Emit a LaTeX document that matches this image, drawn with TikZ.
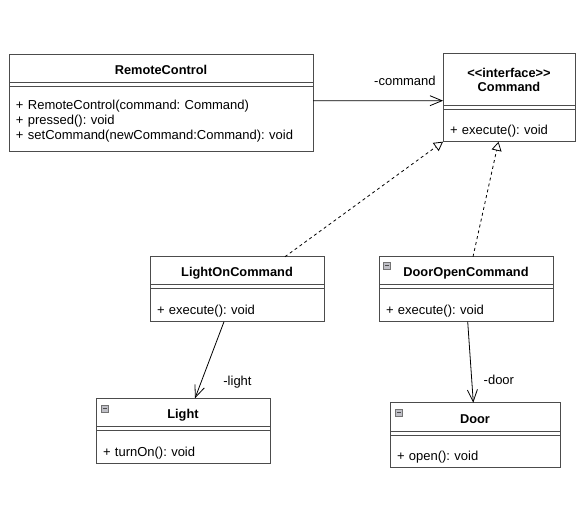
\documentclass[tikz,border=0pt]{standalone}
\usepackage{fontspec}
\setmainfont{Liberation Sans}
\usetikzlibrary{positioning, arrows.meta}
\frenchspacing

\begin{document}
\begin{tikzpicture}[
    x=1pt, y=-1pt,
    node distance=0pt,
    font=\fontsize{13}{15}\selectfont,
    head/.style={rectangle, draw=black!70, line width=1pt, outer sep=0pt, align=center, anchor=north west, font=\fontsize{12.8}{14}\selectfont\bfseries},
    single/.style={text height=12pt, text depth=0pt},
    gap/.style={rectangle, draw=black!70, line width=1pt, outer sep=0pt, inner sep=0pt, minimum height=4pt},
    ops/.style={rectangle, draw=black!70, line width=1pt, outer sep=0pt, inner xsep=7pt, inner ysep=0pt, align=left, text height=21pt},
    icon/.style={rectangle, draw=black!55, fill=blue!10!black!25, line width=0.6pt, minimum size=7pt, inner sep=0pt,
        path picture={\draw[black!70, line width=1pt] ([xshift=1.4pt]path picture bounding box.west) -- ([xshift=-1.4pt]path picture bounding box.east);}},
    assoc/.style={-{Straight Barb[length=12pt,width=10pt]}, line width=0.8pt},
    realize/.style={-{Triangle[open,length=9pt,width=10pt]}, dash pattern=on 3pt off 3pt, line width=0.8pt},
    lbl/.style={inner sep=0pt}
]
\useasboundingbox (0,0) rectangle (585,514);

% RemoteControl
\node[head, single, minimum width=304pt, minimum height=28.7pt] (rcHead) at (9,54) {RemoteControl};
\node[gap, minimum width=304pt, below=of rcHead] (rcGap) {};
\node[ops, text height=14pt, text width=290pt, minimum height=64.3pt, below=of rcGap] (rcOps) {+ RemoteControl(command: Command)\\+ pressed(): void\\+ setCommand(newCommand:Command): void};

% Command
\node[head, minimum width=132pt, minimum height=52.4pt] (cmdHead) at (443,53.3) {<\kern0pt<interface>\kern0pt>\\Command};
\node[gap, minimum width=132pt, below=of cmdHead] (cmdGap) {};
\node[ops, text width=118pt, minimum height=32pt, below=of cmdGap] (cmdOps) {+ execute(): void};

% LightOnCommand
\node[head, single, minimum width=174pt, minimum height=28pt] (locHead) at (150,256.7) {LightOnCommand};
\node[gap, minimum width=174pt, below=of locHead] (locGap) {};
\node[ops, text width=160pt, minimum height=33pt, below=of locGap] (locOps) {+ execute(): void};

% DoorOpenCommand
\node[head, single, minimum width=174pt, minimum height=28pt] (docHead) at (379,256.7) {DoorOpenCommand};
\node[gap, minimum width=174pt, below=of docHead] (docGap) {};
\node[ops, text width=160pt, minimum height=33pt, below=of docGap] (docOps) {+ execute(): void};
\node[icon] (docIcon) at ([shift={(8,9)}]docHead.north west) {};

% Light
\node[head, single, minimum width=174pt, minimum height=28.4pt] (lightHead) at (96,398.3) {Light};
\node[gap, minimum width=174pt, below=of lightHead] (lightGap) {};
\node[ops, text width=160pt, minimum height=32.6pt, below=of lightGap] (lightOps) {+ turnOn(): void};
\node[icon] (lightIcon) at ([shift={(9,10)}]lightHead.north west) {};

% Door
\node[head, single, minimum width=170pt, minimum height=29pt] (doorHead) at (390,402.7) {Door};
\node[gap, minimum width=170pt, below=of doorHead] (doorGap) {};
\node[ops, text width=156pt, minimum height=31.6pt, below=of doorGap] (doorOps) {+ open(): void};
\node[icon] (doorIcon) at ([shift={(9,10)}]doorHead.north west) {};

% connectors
\draw[assoc] ([yshift=-14pt]rcOps.north east) -- ([yshift=5pt]cmdHead.south west)
    node[lbl, pos=1, anchor=east, xshift=-7pt, yshift=20pt] (cmdLbl) {-command};
\draw[realize] ([xshift=48pt]locHead.north) -- (cmdOps.south west);
\draw[realize] ([xshift=7pt]docHead.north) -- ([xshift=-10.5pt]cmdOps.south);
\draw[assoc] ([xshift=-13pt]locOps.south) -- ([xshift=12pt]lightHead.north)
    node[lbl, pos=1, anchor=west, xshift=28pt, yshift=16pt] (lightLbl) {-light};
\draw[assoc] ([xshift=1.7pt]docOps.south) -- ([xshift=-1.7pt]doorHead.north)
    node[lbl, pos=1, anchor=west, xshift=10pt, yshift=23pt] (doorLbl) {-door};

\end{tikzpicture}
\end{document}
